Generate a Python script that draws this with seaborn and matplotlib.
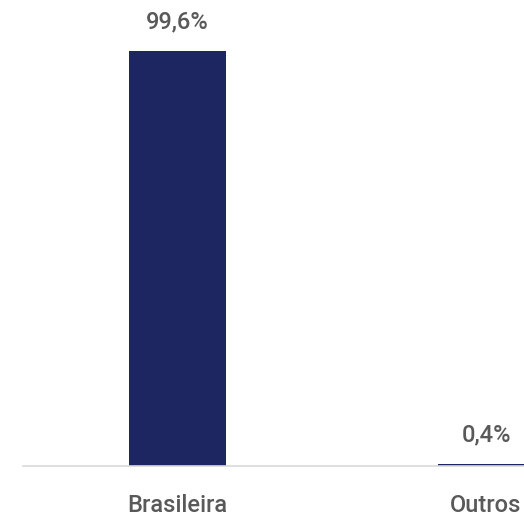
import matplotlib
matplotlib.use("Agg")
import matplotlib.pyplot as plt
import seaborn as sns
import pandas as pd

categories = ["Brasileira", "Outros"]
values = [99.6, 0.4]
labels = ["99,6%", "0,4%"]

sns.set_style("white")
plt.rcParams['font.family'] = ['Roboto', 'DejaVu Sans']

df = pd.DataFrame({"cat": categories, "val": values})

fig = plt.figure(figsize=(5.24, 5.18), dpi=100)
ax = fig.add_axes([23/524, 52/518, 501/524, 466/518])
sns.barplot(data=df, x="cat", y="val", color="#1d2660", width=0.314,
            saturation=1, ax=ax, edgecolor="none")
ax.set_xlim(-0.5, 1.123)
ax.set_ylim(0, 111.8)
for i, (v, t) in enumerate(zip(values, labels)):
    ax.text(i, v + 4.2, t, ha="center", va="bottom", fontsize=17,
            fontweight="medium", color="#595959")
for s in ["top", "right", "left"]:
    ax.spines[s].set_visible(False)
ax.spines["bottom"].set_color("#d9d9d9")
ax.spines["bottom"].set_linewidth(1.2)
ax.set_yticks([])
ax.set_xlabel("")
ax.set_ylabel("")
ax.tick_params(axis="x", length=0, pad=20, labelsize=17, labelcolor="#595959")
for lab in ax.get_xticklabels():
    lab.set_fontweight("medium")
fig.savefig("out.png", dpi=100)
